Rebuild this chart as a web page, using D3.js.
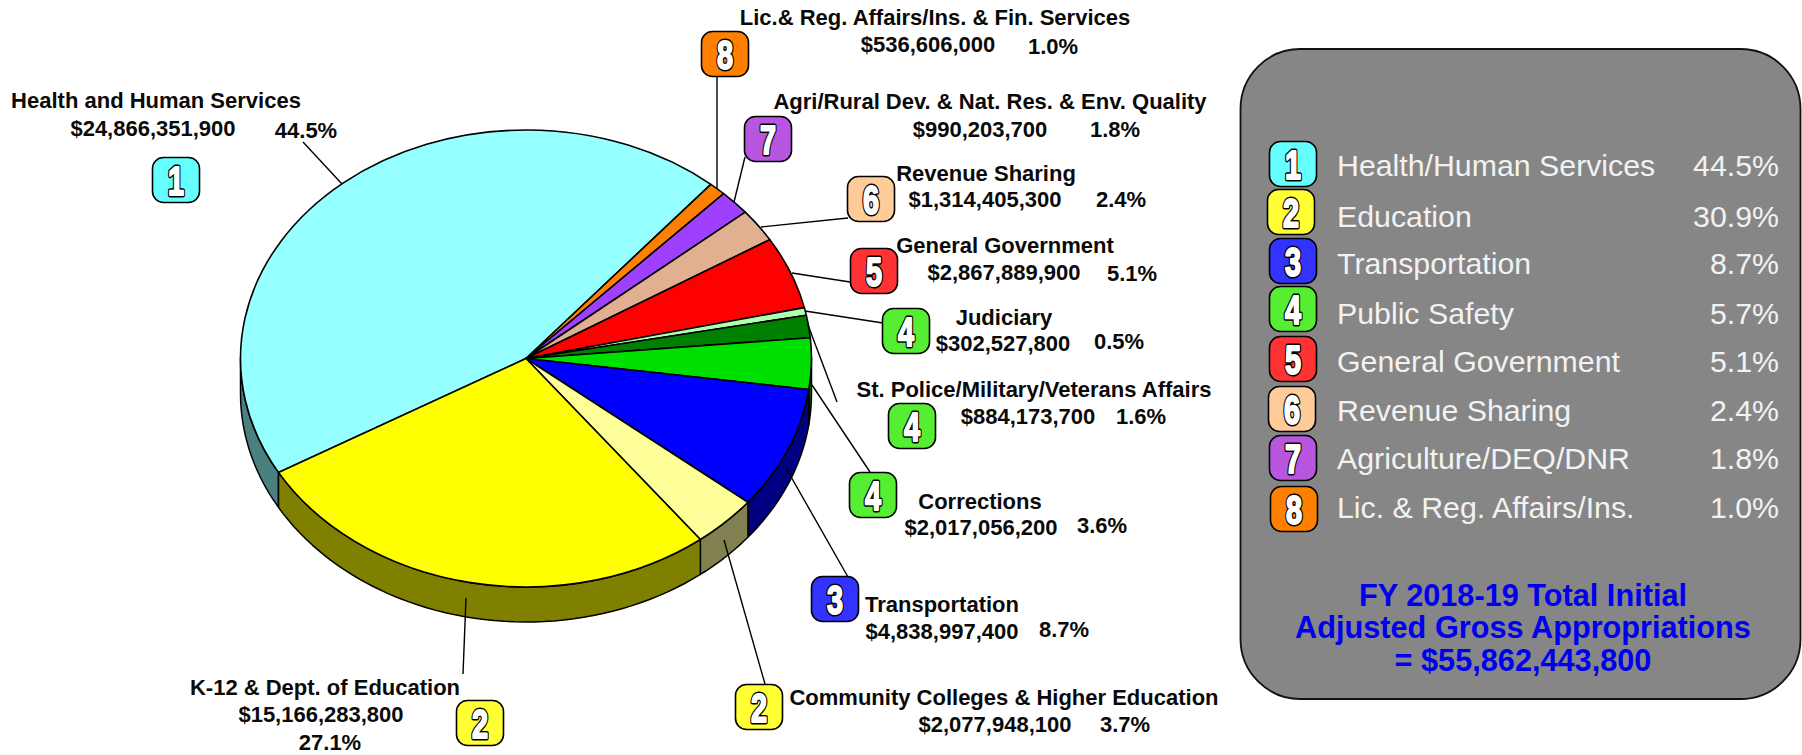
<!DOCTYPE html>
<html>
<head>
<meta charset="utf-8">
<script src="https://cdn.jsdelivr.net/npm/d3@7"></script>
<style>
    body { margin: 0; background: #fff; }
    text { font-family: "Liberation Sans", Arial, sans-serif; }
</style>
</head>
<body>
<div id="chart"></div>
<script>
// Slices, clockwise from the start of Health and Human Services
const sliceNames = [
    "Health and Human Services",
    "Lic.& Reg. Affairs/Ins. & Fin. Services",
    "Agri/Rural Dev. & Nat. Res. & Env. Quality",
    "Revenue Sharing",
    "General Government",
    "Judiciary",
    "St. Police/Military/Veterans Affairs",
    "Corrections",
    "Transportation",
    "Community Colleges & Higher Education",
    "K-12 & Dept. of Education"
];
const sliceAmounts = [
    24866351900, 536606000, 990203700, 1314405300, 2867889900, 302527800,
    884173700, 2017056200, 4838997400, 2077948100, 15166283800
];
const sliceGroups = [1, 8, 7, 6, 5, 4, 4, 4, 3, 2, 2];
const sliceColors = [
    "#96FFFF", "#FF8000", "#A040FF", "#E0B090", "#FF0000", "#B0FFB0",
    "#008000", "#00E000", "#0000FF", "#FFFF99", "#FFFF00"
];
const sideColors = [
    "#4B8080", "#804000", "#502080", "#705848", "#800000", "#588058",
    "#004000", "#007000", "#000080", "#808050", "#808000"
];

// Legend
const legendNames = [
    "Health/Human Services", "Education", "Transportation", "Public Safety",
    "General Government", "Revenue Sharing", "Agriculture/DEQ/DNR", "Lic. & Reg. Affairs/Ins."
];
const legendPercents = ["44.5%", "30.9%", "8.7%", "5.7%", "5.1%", "2.4%", "1.8%", "1.0%"];
const groupColors = ["#66FFFF", "#FFFF33", "#3333FF", "#55EE33", "#FF3333", "#FFCC99", "#B856E0", "#FF8000"];
const totalLines = ["FY 2018-19 Total Initial", "Adjusted Gross Appropriations", "= $55,862,443,800"];

// Layout
const width = 1802;
const height = 755;
const pieBox = { cx: 526, cy: 358.5, rx: 285.5, ry: 228.5, depth: 35, start: 240.1 };
const LABEL_FONT = 22;

// Label block per slice: [name x, name y, amount x, amount y, percent x, percent y]
const labelSpots = [
    [156, 108, 153, 136, 306, 138],
    [935, 25, 928, 52, 1053, 54],
    [990, 109, 980, 137, 1115, 137],
    [986, 181, 985, 207, 1121, 207],
    [1005, 253, 1004, 280, 1132, 281],
    [1004, 325, 1003, 351, 1119, 349],
    [1034, 397, 1028, 424, 1141, 424],
    [980, 509, 981, 535, 1102, 533],
    [942, 612, 942, 639, 1064, 637],
    [1004, 705, 995, 732, 1125, 732],
    [325, 695, 321, 722, 330, 750]
];
// Numbered badge per slice (centre), then the leader line from badge to slice
const badgeSpots = [
    [176, 180], [725, 54], [768, 139], [871, 199], [874, 271], [906, 331],
    [912, 426], [873, 495], [835, 599], [759, 707], [480, 723]
];
const leaderLines = [
    [303, 142, 342, 184],
    [717, 77, 717, 188],
    [745, 157, 734, 202],
    [848, 218, 761, 227],
    [850, 282, 792, 273],
    [883, 323, 805, 311],
    [808, 325, 837, 402],
    [870, 472, 812, 385],
    [848, 577, 786, 468],
    [765, 684, 724, 540],
    [463, 674, 466, 598]
];
// Legend badge centres and text baselines
const legendBadges = [
    [1293, 164], [1291, 212], [1293, 261], [1293, 309],
    [1293, 359], [1292, 409], [1293, 458], [1294, 509]
];
const legendBaselines = [176, 227, 274, 324, 372, 421, 469, 518];
const totalBaselines = [606, 638, 671];

const svg = d3.select("#chart")
    .append("svg")
    .attr("width", width)
    .attr("height", height)
    .style("display", "block");

const rad = d => d * Math.PI / 180;
const total = d3.sum(sliceAmounts);
const formatAmount = d3.format("$,");
const formatPercent = d3.format(".1%");

const pie = d3.pie()
    .sort(null)
    .startAngle(rad(pieBox.start))
    .endAngle(rad(pieBox.start + 360));
const arcs = pie(sliceAmounts);

// Side wall, only the part of each slice facing the viewer (90-270 deg from top)
const edgeX = a => pieBox.cx + pieBox.rx * Math.sin(a);
const edgeY = a => pieBox.cy - pieBox.ry * Math.cos(a);
const wall = d3.area()
    .x(edgeX)
    .y0(edgeY)
    .y1(a => edgeY(a) + pieBox.depth);

const sides = svg.append("g")
    .attr("stroke", "#000")
    .attr("stroke-width", 1.5)
    .attr("stroke-linejoin", "round");

arcs.forEach((d, i) => {
    [[90, 270], [450, 630]].forEach(([lo, hi]) => {
        const a0 = Math.max(d.startAngle, rad(lo));
        const a1 = Math.min(d.endAngle, rad(hi));
        if (a1 <= a0) return;
        const steps = d3.range(a0, a1, rad(2)).concat(a1);
        sides.append("path")
            .attr("d", wall(steps))
            .attr("fill", sideColors[i]);
    });
});

// Top face: a flat d3 pie squashed into an ellipse
const arc = d3.arc().innerRadius(0).outerRadius(pieBox.rx);
svg.append("g")
    .attr("transform", `translate(${pieBox.cx},${pieBox.cy}) scale(1,${pieBox.ry / pieBox.rx})`)
    .selectAll("path")
    .data(arcs)
    .enter()
    .append("path")
    .attr("d", arc)
    .attr("fill", (d, i) => sliceColors[i])
    .attr("stroke", "#000")
    .attr("stroke-width", 1.6)
    .attr("stroke-linejoin", "round")
    .attr("vector-effect", "non-scaling-stroke");

// Leader lines
svg.append("g")
    .selectAll("line")
    .data(leaderLines)
    .enter()
    .append("line")
    .attr("x1", d => d[0])
    .attr("y1", d => d[1])
    .attr("x2", d => d[2])
    .attr("y2", d => d[3])
    .attr("stroke", "#000")
    .attr("stroke-width", 1.4);

// Rounded number badge; the digit is drawn twice to get a heavy outlined look
function drawBadge(parent, x, y, group) {
    const g = parent.append("g").attr("transform", `translate(${x},${y})`);
    g.append("rect")
        .attr("x", -23.5)
        .attr("y", -22.5)
        .attr("width", 47)
        .attr("height", 45)
        .attr("rx", 11)
        .attr("fill", groupColors[group - 1])
        .attr("stroke", "#000")
        .attr("stroke-width", 1.6);
    [["#000", 5], ["#fff", 2]].forEach(([color, weight]) => {
        g.append("text")
            .attr("transform", "translate(0,14.5) scale(0.72,1)")
            .attr("text-anchor", "middle")
            .attr("font-size", 40)
            .attr("font-weight", "bold")
            .attr("fill", "#fff")
            .attr("stroke", color)
            .attr("stroke-width", weight)
            .attr("stroke-linejoin", "round")
            .text(group);
    });
}

// Slice labels
const labels = svg.append("g")
    .attr("font-size", LABEL_FONT)
    .attr("font-weight", "bold")
    .attr("fill", "#0a0a0a")
    .attr("text-anchor", "middle");

sliceNames.forEach((name, i) => {
    const s = labelSpots[i];
    labels.append("text").attr("x", s[0]).attr("y", s[1]).text(name);
    labels.append("text").attr("x", s[2]).attr("y", s[3]).text(formatAmount(sliceAmounts[i]));
    labels.append("text").attr("x", s[4]).attr("y", s[5]).text(formatPercent(sliceAmounts[i] / total));
    drawBadge(svg, badgeSpots[i][0], badgeSpots[i][1], sliceGroups[i]);
});

// Legend panel
svg.append("rect")
    .attr("x", 1240.5)
    .attr("y", 49)
    .attr("width", 560)
    .attr("height", 650)
    .attr("rx", 60)
    .attr("fill", "#868686")
    .attr("stroke", "#111")
    .attr("stroke-width", 1.8);

const legend = svg.append("g")
    .attr("font-size", 30.3)
    .attr("fill", "#F2F2F2");

legendNames.forEach((name, i) => {
    drawBadge(svg, legendBadges[i][0], legendBadges[i][1], i + 1);
    legend.append("text").attr("x", 1337).attr("y", legendBaselines[i]).text(name);
    legend.append("text")
        .attr("x", 1779)
        .attr("y", legendBaselines[i])
        .attr("text-anchor", "end")
        .text(legendPercents[i]);
});

svg.append("g")
    .selectAll("text")
    .data(totalLines)
    .enter()
    .append("text")
    .attr("x", 1523)
    .attr("y", (d, i) => totalBaselines[i])
    .attr("text-anchor", "middle")
    .attr("font-size", 30.7)
    .attr("font-weight", "bold")
    .attr("fill", "#0000EE")
    .text(d => d);
</script>
</body>
</html>
